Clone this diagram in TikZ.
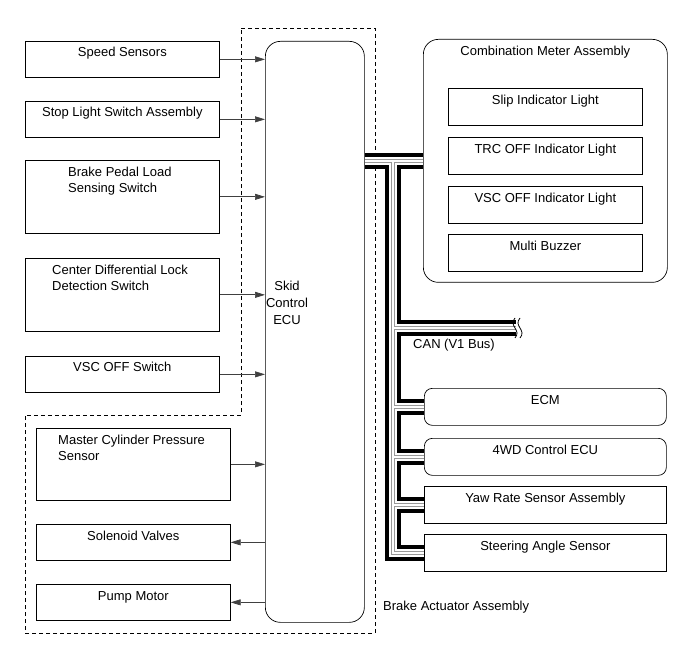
\documentclass[tikz,border=0pt]{standalone}
\usepackage{fontspec}
\setmainfont{Liberation Sans}
\usetikzlibrary{arrows.meta}

\tikzset{
  box/.style={draw, line width=0.7pt, anchor=north west, inner sep=0pt},
  rbox/.style={box, rounded corners=8pt},
  lbl/.style={inner sep=0pt, font=\fontsize{13}{16}\selectfont},
  sig/.style={draw=black!75, line width=0.7pt, -{Triangle[length=10pt,width=6pt]}},
  area/.style={line width=0.7pt, dash pattern=on 4pt off 3pt},
}

\begin{document}
\begin{tikzpicture}[x=1pt,y=-1pt]
\useasboundingbox (0,0) rectangle (691,660);
% brake actuator outline
\draw [area] (241,28) -- (375,28) -- (375,633) -- (25,633) -- (25,415) -- (241,415) -- cycle;
%
\node [box, rounded corners=15pt, minimum width=99pt, minimum height=581pt] (ecu) at (265,41) {};
\node [lbl, align=center, font=\fontsize{13}{17}\selectfont] (ecutxt) at (287,303) {Skid\\Control\\ECU};
%
\node [box, minimum width=194pt, minimum height=36pt] (speed) at (25,41) {};
\node [box, minimum width=194pt, minimum height=36pt] (stop) at (25,101) {};
\node [box, minimum width=194pt, minimum height=73pt] (pedal) at (25,160) {};
\node [box, minimum width=194pt, minimum height=73pt] (diff) at (25,258) {};
\node [box, minimum width=194pt, minimum height=36pt] (vscsw) at (25,356) {};
\node [box, minimum width=194pt, minimum height=72pt] (master) at (36,428) {};
\node [box, minimum width=194pt, minimum height=36pt] (sol) at (36,524) {};
\node [box, minimum width=194pt, minimum height=36pt] (pump) at (36,584) {};
%
\node [lbl, anchor=base] (speedtxt) at ([yshift=-16pt]speed.north) {Speed Sensors};
\node [lbl, anchor=base] (stoptxt) at ([yshift=-16pt]stop.north) {Stop Light Switch Assembly};
\node [lbl, anchor=north west, align=left] (pedaltxt) at (68,167) {Brake Pedal Load\\Sensing Switch};
\node [lbl, anchor=north west, align=left] (difftxt) at (52,265) {Center Differential Lock\\Detection Switch};
\node [lbl, anchor=base] (vscswtxt) at ([yshift=-15pt]vscsw.north) {VSC OFF Switch};
\node [lbl, anchor=north west, align=left] (mastertxt) at (58,435) {Master Cylinder Pressure\\Sensor};
\node [lbl, anchor=base] (soltxt) at ([yshift=-16pt]sol.north) {Solenoid Valves};
\node [lbl, anchor=base] (pumptxt) at ([yshift=-16pt]pump.north) {Pump Motor};
%
\draw [sig] (speed.east) -- (speed.east -| ecu.west);
\draw [sig] (stop.east) -- (stop.east -| ecu.west);
\draw [sig] (pedal.east) -- (pedal.east -| ecu.west);
\draw [sig] (diff.east) -- (diff.east -| ecu.west);
\draw [sig] (vscsw.east) -- (vscsw.east -| ecu.west);
\draw [sig] (master.east) -- (master.east -| ecu.west);
\draw [sig] (sol.east -| ecu.west) -- (sol.east);
\draw [sig] (pump.east -| ecu.west) -- (pump.east);
%
\node [box, rounded corners=15pt, minimum width=244pt, minimum height=243pt] (comb) at (423,39) {};
\node [lbl, anchor=base] (combtxt) at ([yshift=-17pt]comb.north) {Combination Meter Assembly};
\node [box, minimum width=194pt, minimum height=37pt] (slip) at (448,88) {};
\node [box, minimum width=194pt, minimum height=37pt] (trc) at (448,137) {};
\node [box, minimum width=194pt, minimum height=37pt] (vscind) at (448,186) {};
\node [box, minimum width=194pt, minimum height=37pt] (buzz) at (448,234) {};
\node [lbl, anchor=base] (sliptxt) at ([yshift=-17pt]slip.north) {Slip Indicator Light};
\node [lbl, anchor=base] (trctxt) at ([yshift=-17pt]trc.north) {TRC OFF Indicator Light};
\node [lbl, anchor=base] (vscindtxt) at ([yshift=-17pt]vscind.north) {VSC OFF Indicator Light};
\node [lbl, anchor=base] (buzztxt) at ([yshift=-17pt]buzz.north) {Multi Buzzer};
%
\node [rbox, minimum width=242pt, minimum height=37pt] (ecm) at (424,388) {};
\node [rbox, minimum width=242pt, minimum height=37pt] (awd) at (424,438) {};
\node [box, minimum width=242pt, minimum height=37pt] (yaw) at (424,486) {};
\node [box, minimum width=242pt, minimum height=37pt] (steer) at (424,534) {};
\node [lbl, anchor=base] (ecmtxt) at ([yshift=-16pt]ecm.north) {ECM};
\node [lbl, anchor=base] (awdtxt) at ([yshift=-16pt]awd.north) {4WD Control ECU};
\node [lbl, anchor=base] (yawtxt) at ([yshift=-16pt]yaw.north) {Yaw Rate Sensor Assembly};
\node [lbl, anchor=base] (steertxt) at ([yshift=-16pt]steer.north) {Steering Angle Sensor};
%
% CAN bus, drawn in layers
\path (comb.west) ++(-30,0) coordinate (bus);
\coordinate (cut) at (516,328);
\foreach \w/\c in {16/black,8/white,3.5/black!40,1.5/white}
  \draw [line width=\w pt, draw=\c] (ecu.east |- comb.west) -- (comb.west)
    (bus) |- (steer.west)
    (bus |- cut) -- (cut)
    (bus |- ecm.west) -- (ecm.west)
    (bus |- awd.west) -- (awd.west)
    (bus |- yaw.west) -- (yaw.west);
\draw [line width=0.8pt] ([shift={(-1,-10)}]cut) .. controls ([shift={(-8,-2)}]cut) and ([shift={(6,2)}]cut) .. ([shift={(-1,10)}]cut);
\draw [line width=0.8pt] ([shift={(4,-10)}]cut) .. controls ([shift={(-3,-2)}]cut) and ([shift={(11,2)}]cut) .. ([shift={(4,10)}]cut);
\node [lbl, anchor=west] (cantxt) at (413,345) {CAN (V1 Bus)};
\node [lbl, anchor=west] (acttxt) at (383,607) {Brake Actuator Assembly};
\end{tikzpicture}
\end{document}
